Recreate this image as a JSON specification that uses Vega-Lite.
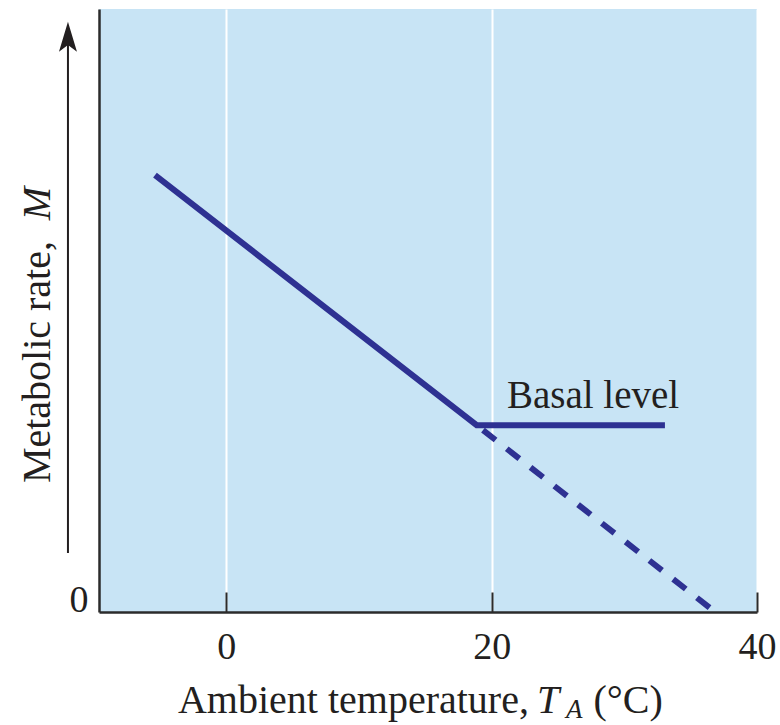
{
  "$schema": "https://vega.github.io/schema/vega-lite/v6.json",
  "width": 658,
  "height": 603,
  "autosize": {"type": "none"},
  "padding": {"left": 99, "top": 9, "right": 23, "bottom": 113},
  "background": "white",
  "config": {
    "view": {"fill": "#c8e4f5", "stroke": null},
    "font": "Liberation Serif"
  },
  "datasets": {
    "curve": [
      {"T": -5.38, "M": 71.9, "part": "solid", "ord": 1},
      {"T": 18.87, "M": 29.6, "part": "solid", "ord": 2},
      {"T": 33.06, "M": 29.6, "part": "solid", "ord": 3},
      {"T": 18.87, "M": 29.6, "part": "dashed", "ord": 1},
      {"T": 36.5, "M": -1.4, "part": "dashed", "ord": 2}
    ],
    "arrow": [
      {"T": -11.94, "M1": 8.0, "M2": 93.9}
    ],
    "arrowhead": [
      {"T": -11.94, "M": 95.3}
    ]
  },
  "encoding": {
    "x": {
      "field": "T", "type": "quantitative",
      "scale": {"domain": [-9.6, 40], "nice": false, "zero": false},
      "axis": {
        "values": [0, 20, 40], "title": null, "grid": true, "gridColor": "white", "gridWidth": 2, "gridOpacity": 1,
        "tickSize": -20, "tickWidth": 2, "tickColor": "#2b2b2b",
        "domainColor": "#2b2b2b", "domainWidth": 2.5,
        "labelFont": "Liberation Serif", "labelFontSize": 38, "labelColor": "#231f20", "labelPadding": 36,
        "labelFlush": false
      }
    },
    "y": {
      "field": "M", "type": "quantitative",
      "scale": {"domain": [-2, 100], "nice": false, "zero": false},
      "axis": {
        "values": [0], "title": null, "grid": false, "ticks": false,
        "domainColor": "#2b2b2b", "domainWidth": 2.5,
        "labelFont": "Liberation Serif", "labelFontSize": 38, "labelColor": "#231f20", "labelPadding": 11,
        "labelFlush": false
      }
    }
  },
  "layer": [
    {
      "data": {"name": "curve"},
      "transform": [{"filter": "datum.part === 'solid'"}],
      "mark": {"type": "line", "color": "#2e3192", "strokeWidth": 6, "strokeCap": "butt", "strokeJoin": "miter"},
      "encoding": {"order": {"field": "ord", "type": "quantitative"}}
    },
    {
      "data": {"name": "curve"},
      "transform": [{"filter": "datum.part === 'dashed'"}],
      "mark": {"type": "line", "color": "#2e3192", "strokeWidth": 6, "strokeCap": "butt", "strokeDash": [16, 14.2], "strokeDashOffset": 22.2},
      "encoding": {"order": {"field": "ord", "type": "quantitative"}}
    },
    {
      "data": {"name": "arrow"},
      "mark": {"type": "rule", "color": "#231f20", "strokeWidth": 2},
      "encoding": {
        "y": {"field": "M1", "type": "quantitative"},
        "y2": {"field": "M2"}
      }
    },
    {
      "data": {"name": "arrowhead"},
      "mark": {"type": "point", "shape": "M0,-1L0.6,1L0,0.55L-0.6,1Z", "size": 900, "filled": true, "color": "#231f20", "opacity": 1, "strokeWidth": 0}
    },
    {
      "data": {"values": [{"T": 21.15, "M": 32.5, "label": "Basal level"}]},
      "mark": {"type": "text", "align": "left", "baseline": "alphabetic", "fontSize": 39, "color": "#231f20", "font": "Liberation Serif"},
      "encoding": {"text": {"field": "label"}}
    },
    {
      "data": {"values": [{"T": -3.65, "M": -19.1, "label": "Ambient temperature,"}]},
      "mark": {"type": "text", "align": "left", "baseline": "alphabetic", "fontSize": 40, "color": "#231f20", "font": "Liberation Serif"},
      "encoding": {"text": {"field": "label"}}
    },
    {
      "data": {"values": [{"T": 23.41, "M": -19.1, "label": "T"}]},
      "mark": {"type": "text", "align": "left", "baseline": "alphabetic", "fontSize": 40, "fontStyle": "italic", "color": "#231f20", "font": "Liberation Serif"},
      "encoding": {"text": {"field": "label"}}
    },
    {
      "data": {"values": [{"T": 25.6, "M": -20.0, "label": "A"}]},
      "mark": {"type": "text", "align": "left", "baseline": "alphabetic", "fontSize": 27, "fontStyle": "italic", "color": "#231f20", "font": "Liberation Serif"},
      "encoding": {"text": {"field": "label"}}
    },
    {
      "data": {"values": [{"T": 32.9, "M": -19.1, "label": "(°C)"}]},
      "mark": {"type": "text", "align": "right", "baseline": "alphabetic", "fontSize": 40, "color": "#231f20", "font": "Liberation Serif"},
      "encoding": {"text": {"field": "label"}}
    },
    {
      "data": {"values": [{"T": -13.3, "M": 19.8, "label": "Metabolic rate,"}]},
      "mark": {"type": "text", "align": "left", "baseline": "alphabetic", "angle": 270, "fontSize": 40, "color": "#231f20", "font": "Liberation Serif"},
      "encoding": {"text": {"field": "label"}}
    },
    {
      "data": {"values": [{"T": -13.3, "M": 69.9, "label": "M"}]},
      "mark": {"type": "text", "align": "right", "baseline": "alphabetic", "angle": 270, "fontSize": 40, "fontStyle": "italic", "color": "#231f20", "font": "Liberation Serif"},
      "encoding": {"text": {"field": "label"}}
    }
  ]
}
